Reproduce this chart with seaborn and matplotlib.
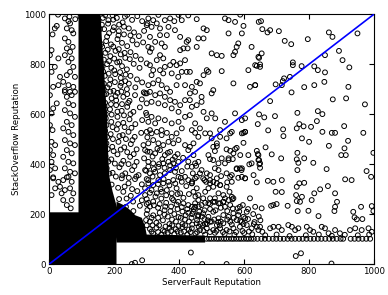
import matplotlib
matplotlib.use("Agg")
import matplotlib.pyplot as plt
import seaborn as sns
import pandas as pd

# saturated regions where the circles overlap into solid black (vertices, data units)
solid_sf = [0, 207, 207, 212, 210, 195, 185, 182, 180, 178, 172, 168, 162, 158, 90, 90, 0]
solid_so = [0, 0, 88, 150, 220, 290, 350, 420, 500, 600, 700, 800, 900, 1000, 1000, 207, 207]
band_sf = [207, 480, 480, 300, 295, 285, 265, 250, 230, 207]
band_so = [86, 86, 114, 118, 150, 185, 195, 215, 235, 250]

# users sitting at the association bonus on StackOverflow
row_so = 101
row_sf = [484, 492, 499, 507, 515, 522, 530, 538, 545, 553, 561, 568, 576, 584, 591, 599,
          607, 614, 622, 630, 641, 653, 664, 676, 688, 699, 711, 722, 734, 746, 757, 769,
          780, 792, 804, 815, 827, 838, 850, 862, 873, 885, 897, 905, 928, 940, 952, 964,
          976, 988]

upper_right = [(645,969),(652,972),(656,940),(672,927),(680,936),(707,932),(725,893),(745,880),
    (796,900),(861,927),(872,909),(949,923),(654,843),(646,825),(639,793),(649,799),(750,807),
    (750,796),(777,792),(816,791),(827,776),(849,836),(849,767),(892,853),(903,816),(924,787),
    (634,716),(697,719),(716,716),(719,732),(723,743),(741,749),(746,687),(785,708),(816,716),
    (847,729),(921,709),(680,652),(873,659),(914,663),(972,639),(646,599),(662,587),(695,592),
    (764,605),(827,612),(841,600),(642,560),(674,535),(720,539),(762,543),(770,560),(783,551),
    (806,549),(824,572),(841,529),(870,525),(880,525),(908,552),(967,525)]

mid_right = [(721,512),(778,503),(800,489),(861,473),(909,463),(920,493),(913,436),(899,436),
    (666,467),(764,445),(762,419),(767,405),(785,423),(813,405),(642,440),(646,416),(649,403),
    (649,385),(685,439),(714,423),(764,376),(854,380),(998,445),(977,372),(991,349),(639,327),
    (673,333),(690,329),(716,336),(697,289),(716,288),(762,309),(770,323),(785,325),(816,283),
    (834,299),(858,312),(880,283),(911,339),(931,336),(760,276),(778,269),(762,252),(808,256),
    (772,249),(690,236),(683,233),(700,240),(654,223),(734,233),(765,212),(798,213),(829,192),
    (878,212),(880,229),(886,249),(936,209),(960,229),(993,232),(998,212),(940,187),(947,179),
    (964,180),(644,136),(649,149),(656,129),(680,143),(690,149),(706,149),(716,136),(736,156),
    (747,149),(757,136),(767,143),(793,149),(803,136),(813,129),(839,149),(849,143),(860,123),
    (880,136),(895,123),(926,136),(942,143),(962,136),(983,143),(993,129),(665,115),(700,118),
    (740,112),(790,115),(830,118),(870,113),(910,117),(950,115),(985,118)]

below_row = [(254,0),(264,5),(286,15),(436,46),(471,0),(546,0),(759,32),(775,43),(869,2)]

mid_centre = [(505,469),(510,452),(516,472),(572,460),(577,465),(444,436),(490,436),(495,420),
    (531,423),(552,416),(565,420),(587,383),(577,380),(592,376),(644,436),(644,416),(647,399),
    (616,399),(439,389),(452,393),(469,376),(442,363),(454,349),(474,343),(439,323),(521,403),
    (529,352),(516,343),(557,349),(582,345),(603,343),(483,329),(495,336),(505,309),(490,303),
    (480,289),(454,303),(444,289),(526,316),(546,309),(548,327),(562,329),(555,289),(536,276),
    (521,283),(510,263),(495,263),(474,263),(459,276),(567,263),(562,269),(536,249),(521,243),
    (505,249),(490,243),(469,236),(449,229),(587,229),(580,223),(596,236),(557,236),(541,229),
    (618,263),(634,229),(444,209),(459,196),(474,203),(490,189),(505,209),(521,183),(536,196),
    (552,189),(567,203),(582,196),(598,189),(608,209),(603,183),(593,169),(577,176),(557,169),
    (536,163),(516,156),(495,169),(474,156),(454,163),(439,143),(464,136),(485,143),(505,136),
    (526,143),(546,136),(567,143),(587,149),(608,156),(623,143),(639,149),(450,122),(480,118),
    (510,125),(540,120),(570,117),(600,124),(625,119),(460,230),(478,215),(495,220),(512,215),
    (528,225),(548,212),(565,222),(585,210),(612,220),(628,200),(645,190),(470,190),(488,175),
    (508,178),(528,170),(548,178),(568,185),(588,172),(612,180),(632,168),(650,175),(465,160),
    (485,160),(525,155),(562,158),(598,160),(630,160)]

centre = [(449,525),(459,509),(480,523),(500,503),(516,483),(526,509),(546,503),(557,523),
    (598,525),(603,529),(598,485),(418,476),(433,469),(444,483),(428,456),(546,459),(557,453),
    (567,443),(552,423),(588,436),(613,436),(639,453),(623,403),(593,383),(577,383),(505,416),
    (510,383),(521,376),(495,356),(541,403),(546,363),(562,356),(593,349),(629,356),(603,343),
    (449,403),(459,409),(464,363),(485,363),(478,336),(495,323),(505,329),(516,323),(526,316),
    (449,343),(439,323),(428,336),(418,349),(408,329),(541,263),(552,256),(564,259),(536,249),
    (526,243),(510,249),(495,240),(480,245),(459,256),(449,243),(439,229),(428,236),(413,243),
    (397,249),(382,256),(300,529),(315,523),(331,529),(346,516),(362,525),(377,509),(392,523),
    (398,496),(382,483),(367,489),(351,476),(336,483),(320,496),(305,483),(295,456),(310,449),
    (326,443),(341,456),(356,436),(372,449),(387,429),(398,409),(382,403),(367,409),(351,403),
    (336,389),(320,403),(305,409),(295,376),(310,363),(326,369),(341,356),(356,363),(372,376),
    (387,369),(398,349),(382,336),(367,329),(351,323),(336,336),(320,316),(305,323),(295,303),
    (315,296),(331,283),(346,289),(362,296),(377,283),(392,303),(403,283),(300,260),(320,250),
    (345,262),(360,245),(310,230),(335,225),(355,215),(375,230),(395,220),(410,210),(425,220),
    (300,200),(320,195),(340,205),(365,190),(385,200),(405,185),(420,195),(440,200),(310,170),
    (330,165),(350,175),(370,160),(390,170),(410,160),(430,170),(455,176),(310,140),(330,145),
    (350,135),(370,145),(390,140),(410,148),(430,138),(320,122),(345,118),(365,125),(385,120),
    (405,126),(425,118)]

centre_fill = [(302,450),(318,430),(333,462),(348,420),(365,445),(380,418),(395,440),(412,425),
    (428,410),(305,390),(322,380),(338,400),(355,385),(372,395),(390,385),(408,372),(425,390),
    (300,340),(318,350),(335,320),(352,340),(370,315),(388,322),(405,345),(422,312),(440,330),
    (310,285),(327,270),(343,300),(360,275),(378,262),(395,280),(413,265),(430,280),(450,270),
    (305,245),(322,235),(340,240),(357,230),(373,212),(392,238),(408,228),(428,205),(445,220),
    (462,210),(315,185),(335,185),(355,198),(378,178),(398,188),(418,178),(438,185),(458,190),
    (478,180),(300,155),(318,155),(338,155),(358,150),(378,155),(398,152),(418,155),(440,158),
    (460,150),(480,160),(500,170),(520,168),(315,130),(335,128),(355,130),(375,132),(395,130),
    (415,130),(435,128),(455,128),(475,132),(495,128),(515,133),(535,128),(555,130),(575,128),
    (595,132),(615,130)]

upper_centre = [(305,983),(320,976),(336,997),(356,976),(372,983),(385,972),(398,997),(408,976),
    (428,995),(454,980),(541,983),(552,976),(572,969),(588,998),(598,953),(300,956),(315,949),
    (331,963),(341,943),(367,949),(387,936),(403,909),(428,896),(423,889),(475,943),(485,936),
    (552,923),(593,923),(310,909),(341,916),(362,916),(346,883),(326,889),(305,869),(315,863),
    (310,849),(356,869),(403,856),(413,863),(426,863),(459,903),(475,903),(454,869),(500,843),
    (516,836),(531,833),(567,836),(577,869),(572,849),(582,883),(623,869),(644,829),(649,789),
    (300,803),(310,796),(320,776),(341,836),(351,823),(331,816),(372,796),(382,809),(392,796),
    (403,803),(418,816),(397,749),(377,763),(408,769),(423,769),(433,769),(351,763),(315,756),
    (341,776),(356,789),(475,756),(490,769),(485,776),(531,772),(613,776),(634,796),(567,723),
    (618,709),(634,716),(305,716),(320,723),(336,736),(346,716),(362,703),(372,689),(392,716),
    (418,716),(439,709),(454,729),(464,723),(433,683),(449,689),(469,669),(500,683),(505,696),
    (295,683),(310,689),(326,676),(341,683),(356,669),(372,656),(387,649),(403,636),(418,656),
    (433,656),(469,649),(398,609),(377,623),(356,636),(336,643),(315,649),(300,643),(439,629),
    (454,636),(475,609),(500,603),(485,583),(511,583),(541,569),(572,603),(593,576),(603,583),
    (300,596),(315,589),(336,583),(305,569),(326,563),(356,576),(377,563),(398,569),(418,589),
    (433,596),(449,563),(464,543),(495,523),(526,536),(562,529),(593,523),(603,529),(439,536),
    (408,543),(346,536),(310,536)]

left_strip = [(17,943),(10,919),(23,953),(48,983),(59,972),(64,963),(54,943),(69,936),(74,923),
    (48,903),(59,889),(72,869),(54,863),(64,849),(48,836),(7,856),(2,836),(28,823),(17,789),
    (7,769),(59,809),(69,823),(74,789),(64,769),(54,756),(79,749),(33,749),(43,729),(28,716),
    (59,716),(74,709),(48,696),(64,689),(79,689),(12,709),(2,676),(27,998),(62,990),(80,980),
    (48,689),(54,669),(69,676),(59,643),(74,636),(48,616),(64,603),(79,589),(54,569),(69,556),
    (43,543),(59,529),(74,516),(48,496),(64,483),(79,476),(54,456),(69,443),(43,429),(59,409),
    (74,403),(48,383),(64,369),(79,363),(54,347),(12,623),(7,603),(23,643),(2,556),(10,536),
    (7,489),(18,476),(2,456),(12,436),(7,409),(18,383),(2,376),(12,347),(12,343),(28,329),
    (43,336),(59,349),(69,329),(18,303),(33,309),(48,296),(64,303),(74,283),(38,283),(43,256),
    (69,256),(54,236),(66,223),(7,276)]

beside_band = [(172,996),(182,976),(195,995),(208,985),(226,967),(240,997),(255,977),(271,992),
    (286,972),(302,963),(169,940),(184,924),(199,948),(214,932),(230,919),(245,943),(261,927),
    (276,912),(292,933),(175,892),(190,879),(210,900),(224,885),(240,872),(256,895),(270,879),
    (289,887),(173,845),(188,832),(204,853),(220,839),(234,825),(250,848),(266,833),(282,819),
    (178,800),(191,785),(209,807),(224,792),(239,779),(260,801),(278,785),(171,753),(188,739),
    (203,760),(220,745),(234,732),(250,753),(270,739),(286,727),(179,707),(198,693),(219,713),
    (239,700),(265,707),(291,687),(175,680),(192,663),(210,685),(228,669),(247,653),(264,676),
    (285,659),(300,683),(170,632),(187,619),(206,636),(223,613),(240,629),(259,609),(279,627),
    (298,605),(174,583),(191,569),(210,589),(228,565),(247,579),(265,560),(286,576),(172,533),
    (189,520),(208,539),(226,516),(244,529),(263,509),(283,525),(302,507),(176,483),(194,469),
    (213,489),(231,467),(251,480),(269,459),(290,476),(173,432),(191,419),(210,439),(228,413),
    (249,429),(269,409),(292,423),(177,383),(195,365),(216,387),(234,363),(255,376),(275,356),
    (298,373),(223,343),(244,323),(264,340),(285,319),(305,336),(228,289),(251,273),(271,292),
    (295,276),(236,229),(259,212),(279,233),(302,216),(249,169),(274,156),(298,176)]

band_fringe = [(165,985),(181,962),(197,978),(215,958),(233,990),(162,958),(178,910),(196,935),
    (213,915),(230,950),(250,915),(163,870),(180,858),(197,870),(214,860),(232,845),(168,818),
    (184,812),(200,822),(216,810),(248,820),(166,770),(183,762),(200,775),(218,768),(235,758),
    (168,722),(185,718),(202,728),(222,725),(245,722),(170,678),(188,690),(204,672),(222,690),
    (240,680),(172,645),(190,640),(206,655),(224,640),(243,645),(174,600),(192,598),(210,610),
    (230,595),(250,600),(176,556),(195,548),(212,560),(232,548),(253,545),(178,508),(196,500),
    (216,512),(236,500),(256,496),(180,460),(198,452),(220,458),(240,448),(260,440),(182,410),
    (202,402),(222,400),(244,400),(262,392),(185,362),(205,350),(225,355),(245,345),(268,350),
    (192,318),(212,305),(232,310),(255,300),(215,260),(238,262),(258,250),(285,255),(300,240),
    (230,200),(96,990),(152,975),(156,940),(160,880),(164,790),(168,700),(172,620)]

diag_sf = [0, 1000]
diag_so = [0, 1000]

points = pd.DataFrame(upper_right + mid_right + below_row + mid_centre + centre + centre_fill
                      + upper_centre + left_strip + beside_band + band_fringe,
                      columns=["sf", "so"])
row = pd.DataFrame({"sf": row_sf, "so": [row_so] * len(row_sf)})
points = pd.concat([points, row], ignore_index=True)

plt.rcParams.update({
    "font.family": "DejaVu Sans",
    "font.size": 6.2,
    "xtick.direction": "in",
    "ytick.direction": "in",
    "xtick.top": True,
    "ytick.right": True,
    "xtick.major.size": 3.5,
    "ytick.major.size": 3.5,
    "xtick.major.pad": 2.5,
    "ytick.major.pad": 2.5,
    "axes.linewidth": 0.8,
})

fig = plt.figure(figsize=(3.88, 2.95), dpi=100)
ax = fig.add_axes([0.127, 0.105, 0.837, 0.847])

ax.fill(solid_sf, solid_so, color="black", lw=0, zorder=1)
ax.fill(band_sf, band_so, color="black", lw=0, zorder=1)

sns.scatterplot(data=points, x="sf", y="so", ax=ax, s=12, marker="o", color="black",
                facecolor="none", edgecolor="black", linewidth=0.7, zorder=2, legend=False)
sns.lineplot(x=diag_sf, y=diag_so, ax=ax, color="#0000ff", lw=1.2, zorder=3)

ax.set_xlim(0, 1000)
ax.set_ylim(0, 1000)
ax.set_xticks([0, 200, 400, 600, 800, 1000])
ax.set_yticks([0, 200, 400, 600, 800, 1000])
ax.set_xlabel("ServerFault Reputation", labelpad=1)
ax.set_ylabel("StackOverflow Reputation", labelpad=2)

fig.savefig("out.png", dpi=100)
